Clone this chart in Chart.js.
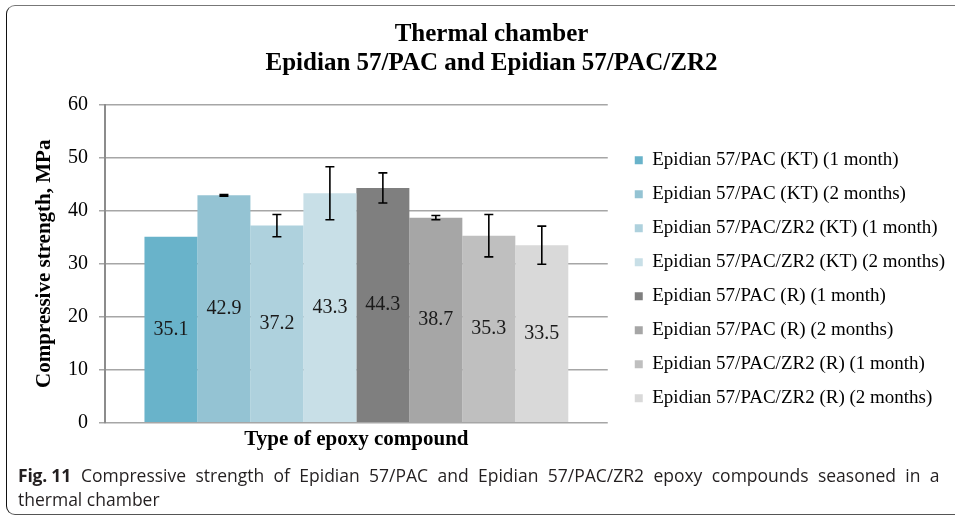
<!DOCTYPE html>
<html><head><meta charset="utf-8">
<script src="https://cdn.jsdelivr.net/npm/chart.js@4.4.1/dist/chart.umd.min.js"></script>
<style>
html,body{margin:0;padding:0;background:#fff;overflow:hidden;width:955px;height:520px;}
#wrap{position:absolute;left:0;top:0;width:955px;height:460px;}
#frame{position:absolute;left:6px;top:5px;width:949px;height:510px;border:1.5px solid #555;border-right:none;border-top-color:#777;border-left-color:#111;border-radius:9px 0 0 9px;box-sizing:border-box;pointer-events:none;}
#cap{position:absolute;left:18px;top:463px;font-family:"Open Sans",sans-serif;font-size:17.5px;line-height:24px;color:#231f20;white-space:nowrap;}
#cap b{font-weight:700;letter-spacing:-0.2px;margin-right:10px;}
#cap .l1{word-spacing:4.8px;}
</style></head>
<body>
<div id="wrap"><canvas id="c"></canvas></div>
<div id="frame"></div>
<div id="cap"><b>Fig. 11</b><span class="l1">Compressive strength of Epidian 57/PAC and Epidian 57/PAC/ZR2 epoxy compounds seasoned in a</span><br>thermal chamber</div>
<script>
const categories = [''];
const seriesNames = [
  'Epidian 57/PAC (KT) (1 month)',
  'Epidian 57/PAC (KT) (2 months)',
  'Epidian 57/PAC/ZR2 (KT) (1 month)',
  'Epidian 57/PAC/ZR2 (KT) (2 months)',
  'Epidian 57/PAC (R) (1 month)',
  'Epidian 57/PAC (R) (2 months)',
  'Epidian 57/PAC/ZR2 (R) (1 month)',
  'Epidian 57/PAC/ZR2 (R) (2 months)'
];
const values = [35.1, 42.9, 37.2, 43.3, 44.3, 38.7, 35.3, 33.5];
const errors = [0, 0.15, 2.1, 5.0, 2.85, 0.4, 4.0, 3.6];
const colors = ['#69B3CA', '#94C3D3', '#AED1DD', '#C8DFE7', '#7F7F7F', '#A6A6A6', '#BFBFBF', '#D9D9D9'];
const titleLines = ['Thermal chamber', 'Epidian 57/PAC and Epidian 57/PAC/ZR2'];
const yTitle = 'Compressive strength, MPa';
const xTitle = 'Type of epoxy compound';
const yMin = 0, yMax = 60, yStep = 10;

const SERIF = '"Liberation Serif", "Times New Roman", serif';

// let the right-hand legend take the width it needs (layout would otherwise cap it at a quarter of the canvas)
if (Chart.Legend && Chart.Legend._element) {
  const LegendEl = Chart.Legend._element;
  const origUpdate = LegendEl.prototype.update;
  LegendEl.prototype.update = function (maxWidth, maxHeight, margins) {
    return origUpdate.call(this, Math.max(maxWidth, 400), maxHeight, margins);
  };
}

const datasets = seriesNames.map((name, i) => ({
  label: name,
  data: [values[i]],
  backgroundColor: colors[i],
  borderWidth: 0,
  yAxisID: 'y',
  errorValue: errors[i]
}));

const barExtras = {
  id: 'barExtras',
  afterDatasetsDraw(chart) {
    const ctx = chart.ctx;
    const y = chart.scales.y;
    ctx.save();
    chart.data.datasets.forEach((ds, i) => {
      const meta = chart.getDatasetMeta(i);
      meta.data.forEach((bar, j) => {
        const v = ds.data[j];
        ctx.fillStyle = '#1a1a1a';
        ctx.font = '20px ' + SERIF;
        ctx.textAlign = 'center';
        ctx.textBaseline = 'middle';
        ctx.fillText(v.toFixed(1), bar.x, (bar.y + bar.base) / 2);
        const e = ds.errorValue;
        if (e > 0) {
          const yt = y.getPixelForValue(v + e);
          const yb = y.getPixelForValue(v - e);
          ctx.strokeStyle = '#000';
          ctx.lineWidth = 1.6;
          ctx.beginPath();
          ctx.moveTo(bar.x, yt); ctx.lineTo(bar.x, yb);
          ctx.moveTo(bar.x - 4.5, yt); ctx.lineTo(bar.x + 4.5, yt);
          ctx.moveTo(bar.x - 4.5, yb); ctx.lineTo(bar.x + 4.5, yb);
          ctx.stroke();
        }
      });
    });
    ctx.restore();
  }
};

new Chart(document.getElementById('c'), {
  type: 'bar',
  data: { labels: categories, datasets },
  options: {
    responsive: true,
    maintainAspectRatio: false,
    animation: false,
    devicePixelRatio: 1,
    layout: { padding: { left: 28, right: 0, top: 10, bottom: 4 } },
    datasets: { bar: { categoryPercentage: 0.843, barPercentage: 1.0 } },
    plugins: {
      tooltip: { enabled: false },
      title: {
        display: true,
        text: titleLines,
        color: '#000',
        font: { family: SERIF, size: 25, weight: 'bold', lineHeight: 1.16 },
        padding: { top: 10.5, bottom: 26.2 }
      },
      legend: {
        position: 'right',
        align: 'end',
        fullSize: false,
        labels: {
          boxWidth: 8,
          boxHeight: 8,
          padding: 15,
          color: '#000',
          font: { family: SERIF, size: 19 }
        }
      }
    },
    scales: {
      x: {
        type: 'category',
        grid: { display: false, drawTicks: false },
        border: { display: false },
        ticks: { display: false },
        title: {
          display: true,
          text: xTitle,
          color: '#000',
          font: { family: SERIF, size: 21, weight: 'bold' },
          padding: { top: 4, bottom: 4 }
        }
      },
      y: {
        position: 'left',
        min: yMin,
        max: yMax,
        ticks: {
          stepSize: yStep,
          color: '#000',
          padding: 11,
          font: { family: SERIF, size: 20 }
        },
        grid: { color: '#a6a6a6', lineWidth: 1.5, tickLength: 6 },
        border: { color: '#8c8c8c', width: 2 },
        title: {
          display: true,
          text: yTitle,
          color: '#000',
          font: { family: SERIF, size: 21, weight: 'bold' },
          padding: { top: 3.8, bottom: 0 }
        }
      },
      // empty spacer between the plot and the legend
      gap: {
        type: 'linear',
        position: 'right',
        display: true,
        grid: { display: false, drawTicks: false },
        border: { display: false },
        ticks: { display: false },
        afterFit(scale) { scale.width = 12; }
      }
    }
  },
  plugins: [barExtras]
});
</script>
</body></html>
